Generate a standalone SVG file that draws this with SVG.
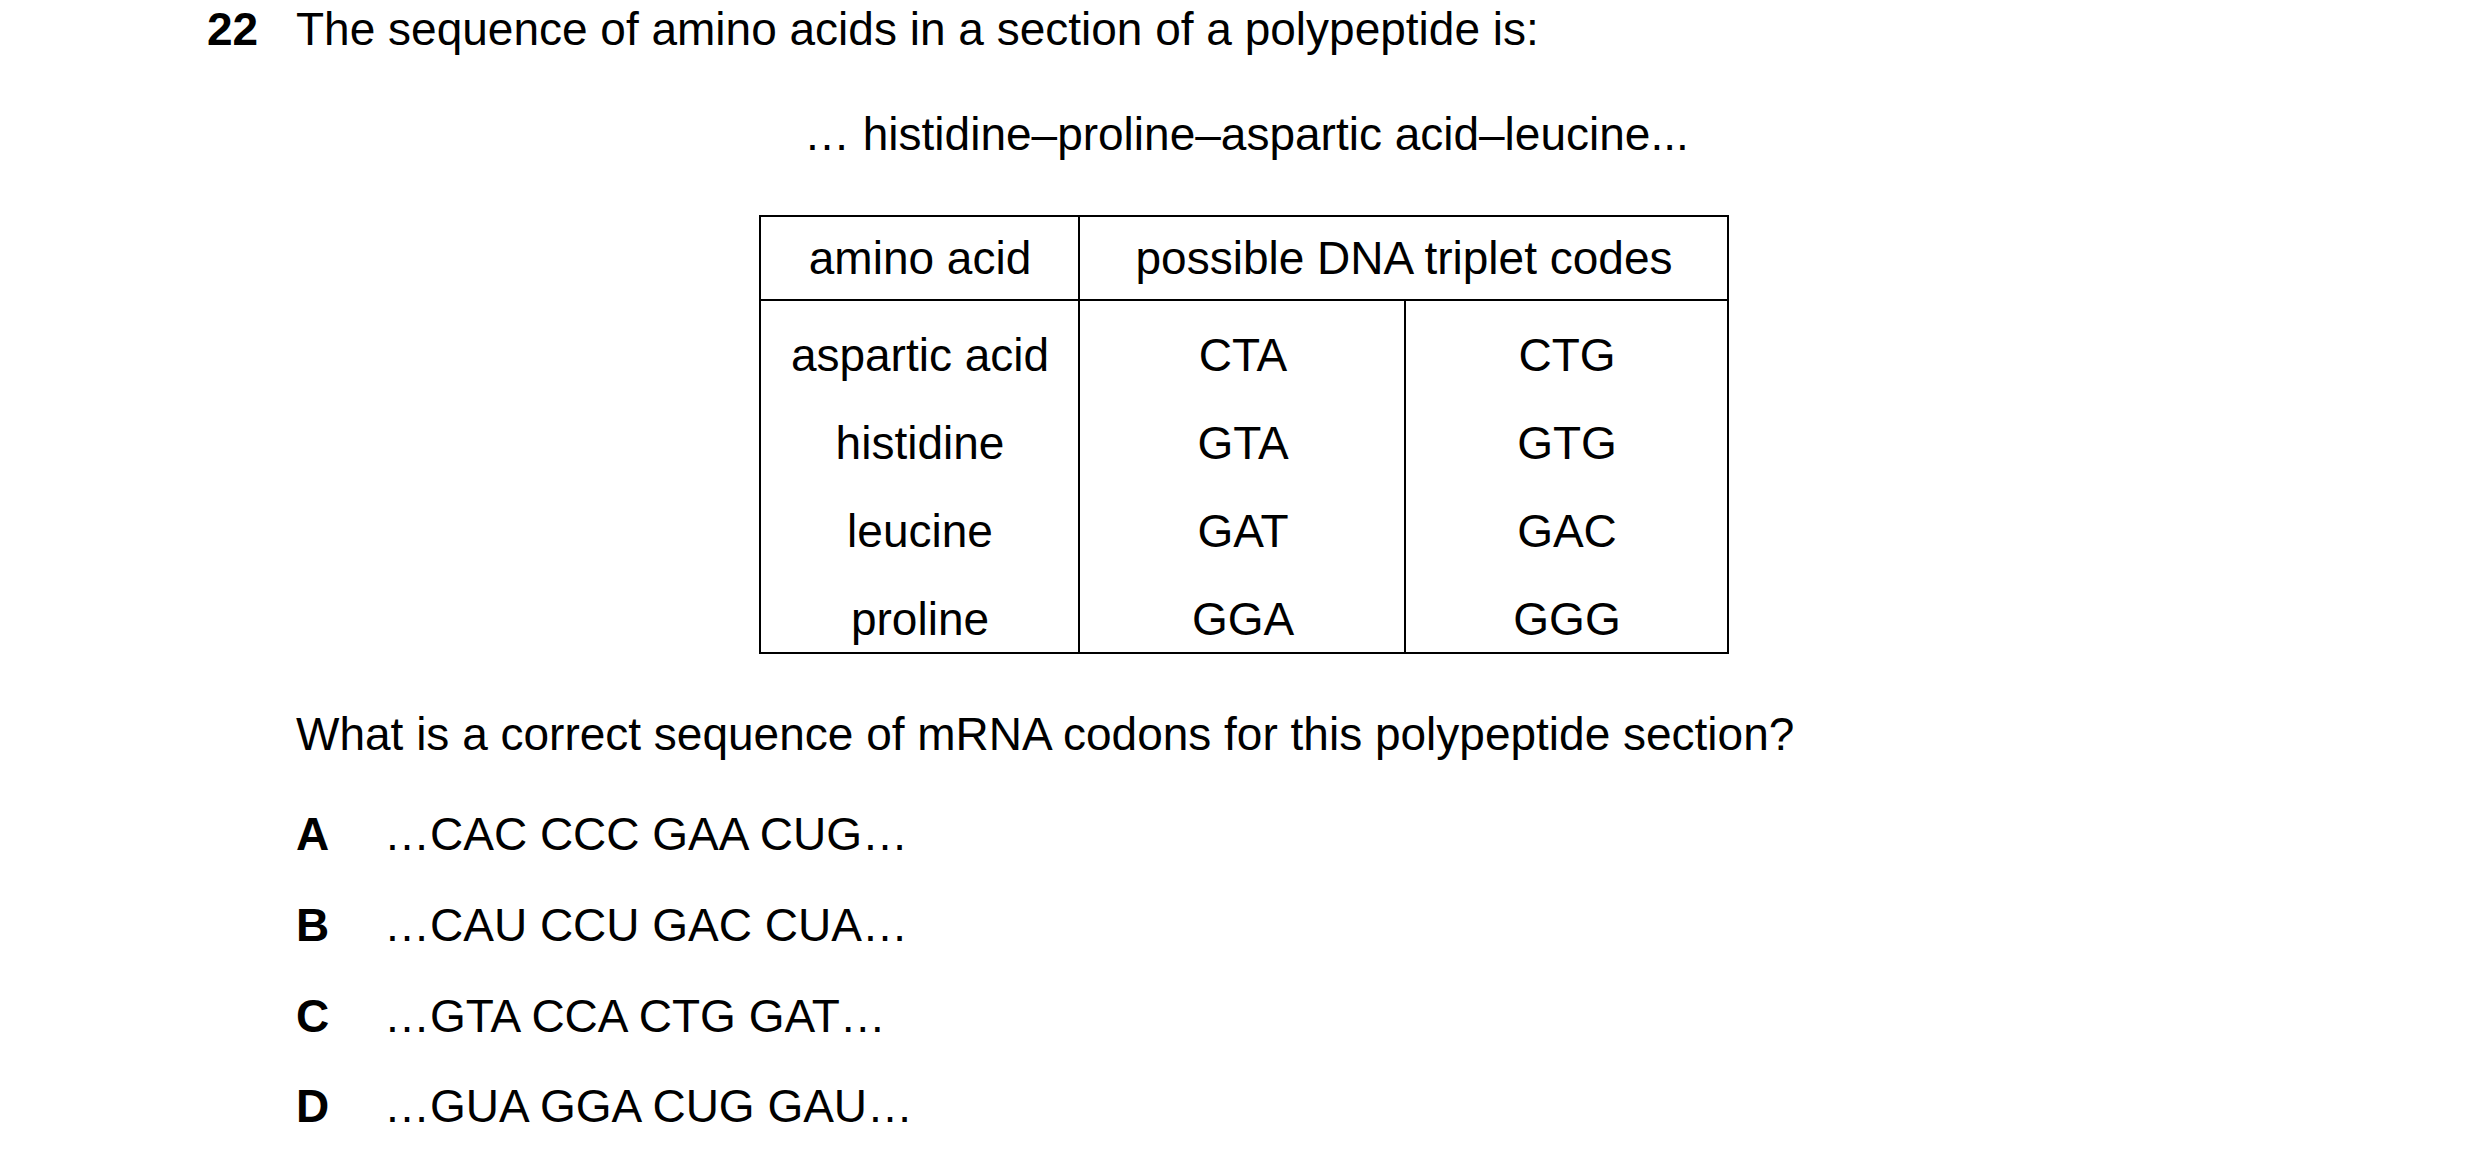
<svg xmlns="http://www.w3.org/2000/svg" width="2480" height="1158" viewBox="0 0 2480 1158">
<style>
text{font-family:"Liberation Sans",Arial,sans-serif;font-size:46px;fill:#000}
.b{font-weight:bold}
.c{text-anchor:middle}
.ln{stroke:#000;stroke-width:2;fill:none}
</style>
<rect width="2480" height="1158" fill="#fff"/>
<text class="b" x="207" y="45">22</text>
<text x="296" y="45">The sequence of amino acids in a section of a polypeptide is:</text>
<text x="804" y="150">… histidine–proline–aspartic acid–leucine...</text>
<g id="table">
<rect class="ln" x="760" y="216" width="968" height="437"/>
<line class="ln" x1="760" y1="300" x2="1728" y2="300"/>
<line class="ln" x1="1079" y1="216" x2="1079" y2="653"/>
<line class="ln" x1="1405" y1="300" x2="1405" y2="653"/>
<text class="c" x="920" y="274">amino acid</text>
<text class="c" x="1404" y="274">possible DNA triplet codes</text>
<text class="c" x="920" y="371">aspartic acid</text>
<text class="c" x="1243" y="371">CTA</text>
<text class="c" x="1567" y="371">CTG</text>
<text class="c" x="920" y="459">histidine</text>
<text class="c" x="1243" y="459">GTA</text>
<text class="c" x="1567" y="459">GTG</text>
<text class="c" x="920" y="547">leucine</text>
<text class="c" x="1243" y="547">GAT</text>
<text class="c" x="1567" y="547">GAC</text>
<text class="c" x="920" y="635">proline</text>
<text class="c" x="1243" y="635">GGA</text>
<text class="c" x="1567" y="635">GGG</text>
</g>
<text x="296" y="750">What is a correct sequence of mRNA codons for this polypeptide section?</text>
<text class="b" x="296" y="850">A</text><text x="384" y="850">…CAC CCC GAA CUG…</text>
<text class="b" x="296" y="941">B</text><text x="384" y="941">…CAU CCU GAC CUA…</text>
<text class="b" x="296" y="1032">C</text><text x="384" y="1032">…GTA CCA CTG GAT…</text>
<text class="b" x="296" y="1122">D</text><text x="384" y="1122">…GUA GGA CUG GAU…</text>
</svg>
